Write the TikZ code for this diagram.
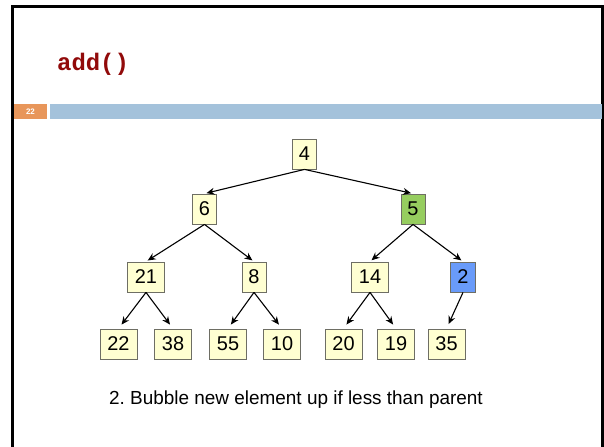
\documentclass[tikz,border=0pt]{standalone}
\usepackage{fontspec}
\setmainfont{Liberation Sans}
\newfontfamily\monob{Liberation Mono}
\usetikzlibrary{arrows.meta}
\frenchspacing
\definecolor{boxfill}{RGB}{255,255,210}
\definecolor{boxline}{RGB}{110,110,100}
\definecolor{greenfill}{RGB}{150,205,95}
\definecolor{bluefill}{RGB}{105,155,250}
\definecolor{titlered}{RGB}{145,10,10}
\definecolor{bandorange}{RGB}{232,150,90}
\definecolor{bandblue}{RGB}{164,194,219}
\tikzset{
  hbox/.style={draw=boxline, line width=0.8bp, fill=boxfill, inner sep=0pt,
    minimum height=30bp, font=\fontsize{20}{20}\selectfont},
  narrow/.style={hbox, minimum width=24bp},
  wide/.style={hbox, minimum width=37bp},
  edge/.style={-{Stealth[length=8bp,width=7bp]}, line width=1.1bp, shorten >=2bp}
}
\begin{document}
\begin{tikzpicture}[x=1bp,y=-1bp]
\useasboundingbox (0,0) rectangle (604,447);
\fill[white] (0,0) rectangle (604,447);
% frame
\draw[line width=2.5bp] (12.5,447) -- (12.5,6.5) -- (602.5,6.5) -- (602.5,447);
% band
\fill[bandorange] (14,104) rectangle (47,119);
\fill[bandblue] (50,104) rectangle (602,119);
\node (pnum) at (30.5,111.5) {\fontsize{8}{8}\selectfont\bfseries\color{white}22};
% title
\node[anchor=base west, inner sep=0pt, text=titlered] (title) at (57,71)
  {\monob\fontsize{24}{24}\selectfont\bfseries add()};
% tree
\node[narrow] (n4) at (304.5,154) {4};
\node[narrow] (n6) at (204.5,209) {6};
\node[narrow, fill=greenfill] (n5) at (413,209) {5};
\node[wide] (n21) at (146,277) {21};
\node[narrow] (n8) at (254,277) {8};
\node[wide] (n14) at (370,277) {14};
\node[narrow, minimum width=25bp, fill=bluefill] (n2) at (463,277) {2};
\node[wide] (n22) at (118.5,344) {22};
\node[wide] (n38) at (173,344) {38};
\node[wide] (n55) at (228,344) {55};
\node[wide] (n10) at (282,344) {10};
\node[wide] (n20) at (343.5,344) {20};
\node[wide] (n19) at (396,344) {19};
\node[wide] (n35) at (446.5,344) {35};
\draw[edge] (n4.south) -- (n6.north);
\draw[edge] (n4.south) -- (n5.north);
\draw[edge] (n6.south) -- (n21.north);
\draw[edge] (n6.south) -- (n8.north);
\draw[edge] (n5.south) -- (n14.north);
\draw[edge] (n5.south) -- (n2.north);
\draw[edge, shorten >=5bp] (n21.south) -- (n22.north);
\draw[edge, shorten >=5bp] (n21.south) -- (n38.north);
\draw[edge, shorten >=5bp] (n8.south) -- (n55.north);
\draw[edge, shorten >=5bp] (n8.south) -- (n10.north);
\draw[edge, shorten >=5bp] (n14.south) -- (n20.north);
\draw[edge, shorten >=5bp] (n14.south) -- (n19.north);
\draw[edge, shorten >=5bp] (n2.south) -- (n35.north);
% caption
\node (caption) at (296,400) {\fontsize{19}{19}\selectfont 2. Bubble new element up if less than parent};
\end{tikzpicture}
\end{document}
